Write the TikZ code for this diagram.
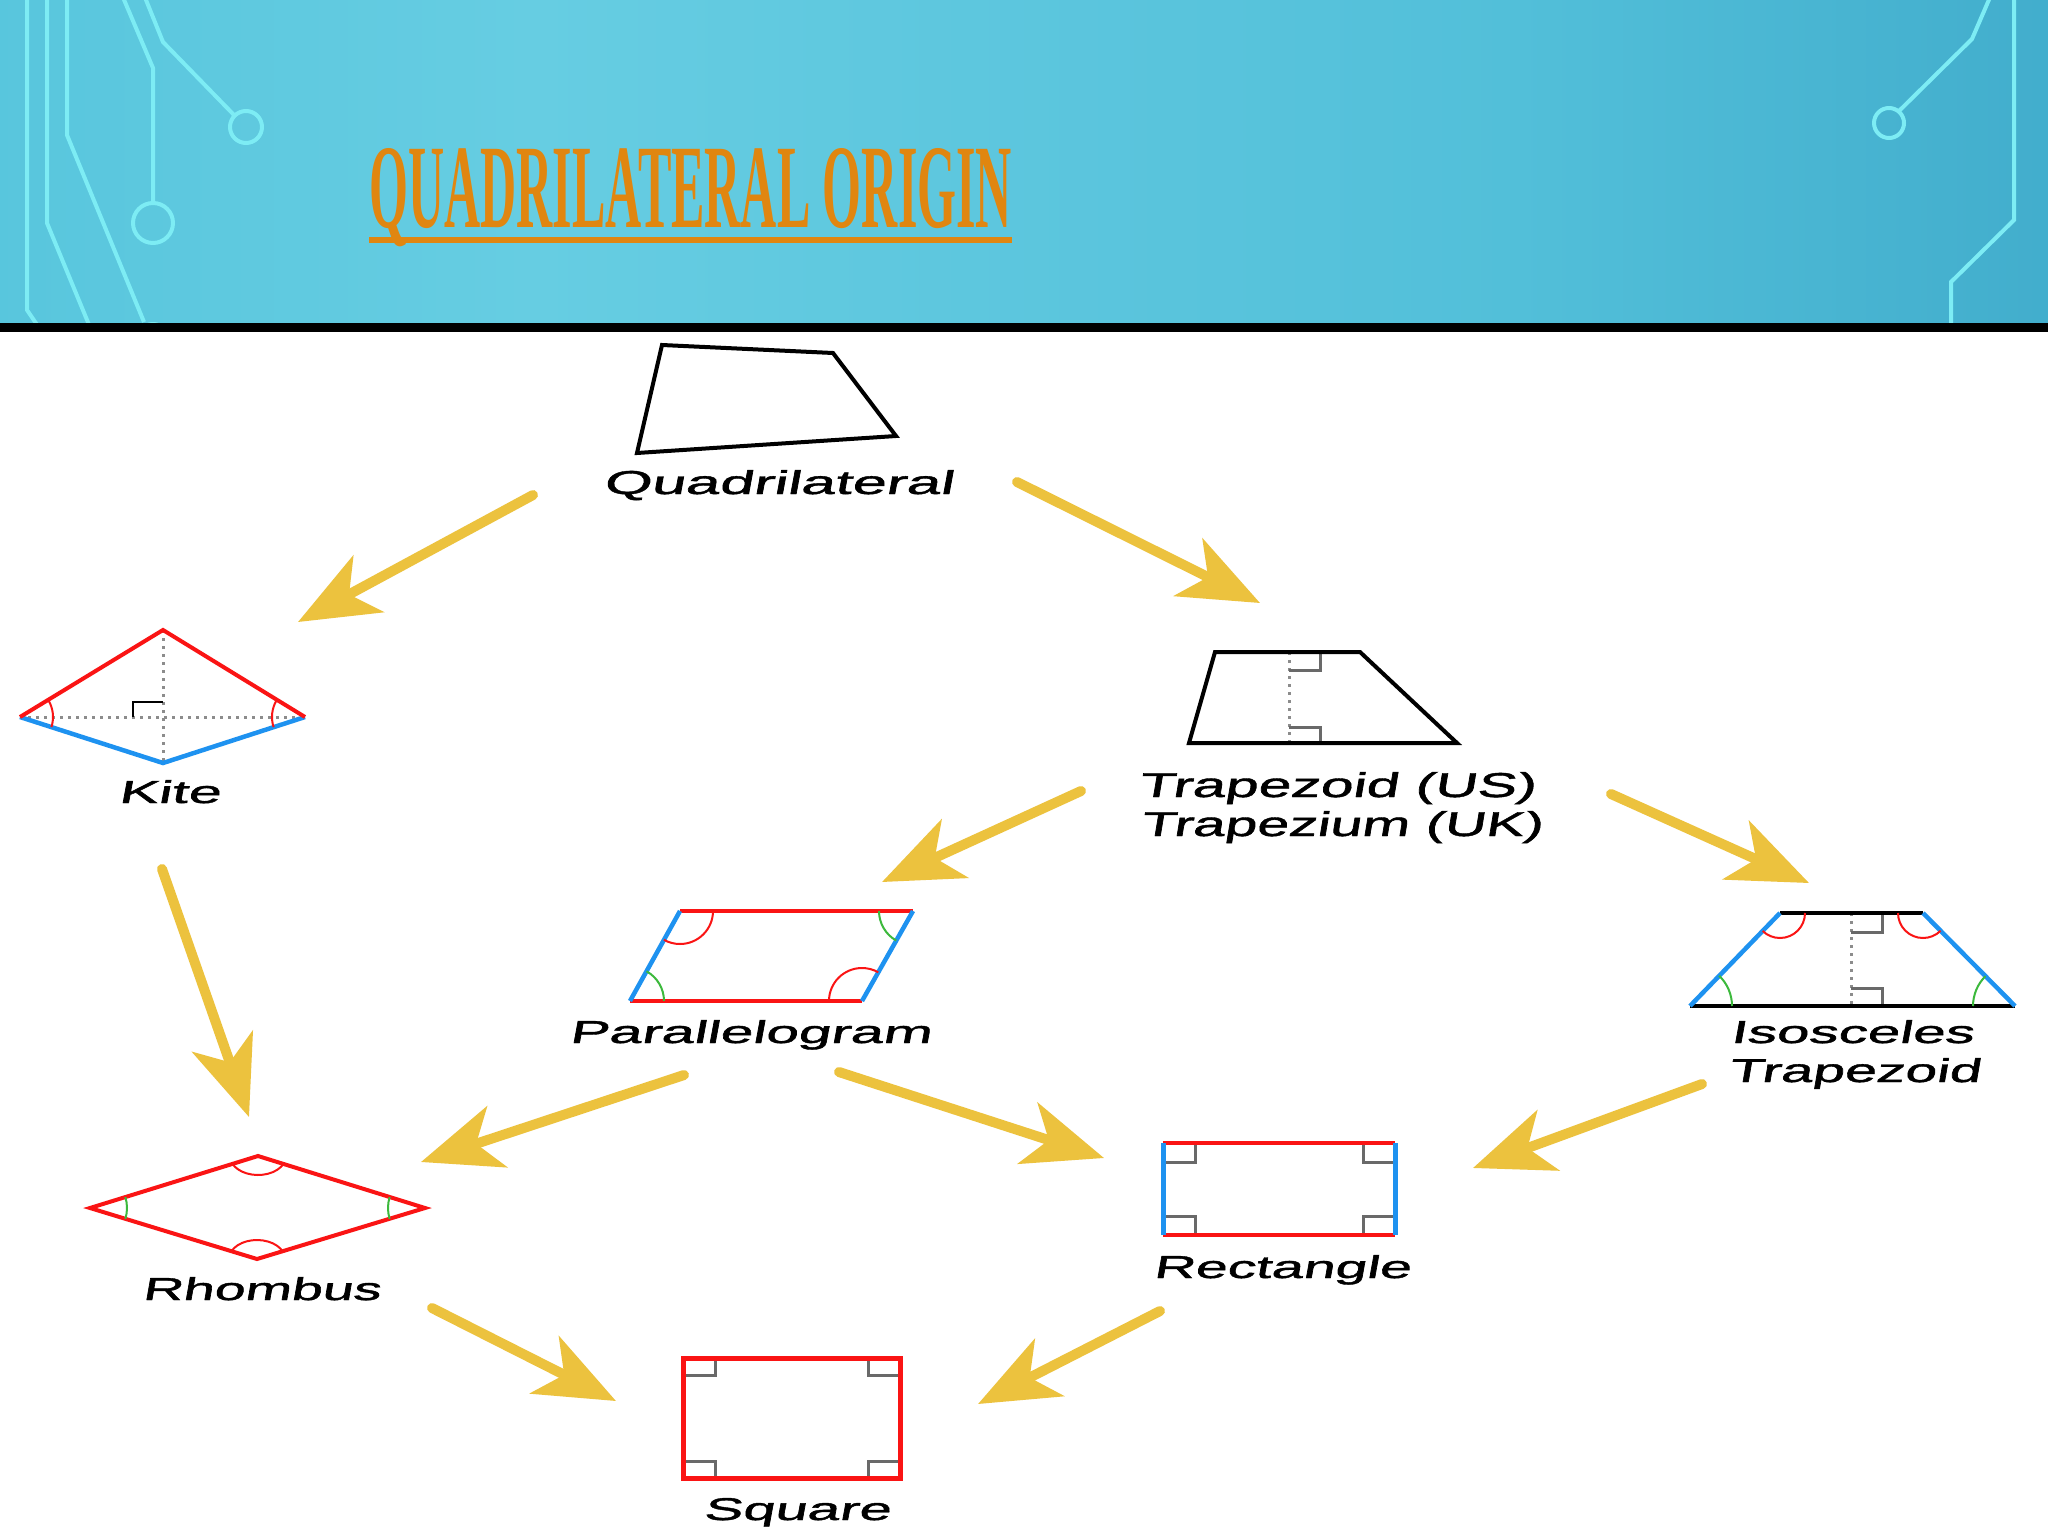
\documentclass[tikz,border=0pt]{standalone}
\usepackage{fontspec}
\usepackage{graphicx}
\usetikzlibrary{arrows.meta}
\newfontfamily\lblfont[FakeSlant=0.1, FakeBold=1.2]{Liberation Sans}
\newfontfamily\ttlfont{Liberation Serif}
\definecolor{hA}{RGB}{62,184,211}
\definecolor{hB}{RGB}{102,205,226}
\definecolor{hC}{RGB}{82,191,217}
\definecolor{hD}{RGB}{50,156,192}
\definecolor{hE}{RGB}{34,126,158}
\definecolor{circuit}{RGB}{125,236,244}
\definecolor{titleorange}{RGB}{224,134,16}
\definecolor{ayellow}{RGB}{236,194,62}
\definecolor{sred}{RGB}{250,20,20}
\definecolor{sblue}{RGB}{30,146,240}
\definecolor{sgreen}{RGB}{60,185,60}
\definecolor{dotgray}{RGB}{140,140,140}
\definecolor{markgray}{RGB}{105,105,105}
\pgfdeclarehorizontalshading{hdrshade}{100bp}{color(0bp)=(hA); color(38bp)=(hB); color(62bp)=(hC); color(88bp)=(hD); color(100bp)=(hE)}
\tikzset{
  circ/.style={draw=circuit, line width=4pt},
  yarrow/.style={draw=ayellow, line width=10pt, line cap=round, -{Stealth[length=80pt, width=64pt, inset=22pt]}},
  edgeblack/.style={draw=black, line width=4pt, line join=miter},
  edgered/.style={draw=sred, line width=4pt},
  edgeblue/.style={draw=sblue, line width=4.5pt},
  dotline/.style={draw=dotgray, line width=3pt, dash pattern=on 3pt off 5pt},
  rmark/.style={draw=markgray, line width=3pt},
  amred/.style={draw=sred, line width=2pt},
  amgreen/.style={draw=sgreen, line width=2pt},
  lbl/.style={anchor=base west, inner sep=0pt, text=black}
}
\newcommand{\lbltext}[3]{\resizebox{#1pt}{#2pt}{\lblfont #3}}
\begin{document}
\begin{tikzpicture}[x=1pt,y=-1pt]
\useasboundingbox (0,0) rectangle (2048,1536);
\fill[white] (0,0) rectangle (2048,1536);
% header
\fill[shading=hdrshade] (0,0) rectangle (2048,324);
\begin{scope}
\clip (0,0) rectangle (2048,324);
\draw[circ] (27,-5) -- (27,310) -- (42,332);
\draw[circ] (47,-5) -- (47,223) -- (92,332);
\draw[circ] (67,-5) -- (67,135) -- (144,322);
\draw[circ] (153,340) circle[radius=16];
\draw[circ] (122,-5) -- (153,68) -- (153,203);
\draw[circ] (153,223) circle[radius=20];
\draw[circ] (144,-5) -- (163,42) -- (235,116);
\draw[circ] (246,127) circle[radius=16];
\draw[circ] (1991,-5) -- (1972,39) -- (1898,112);
\draw[circ] (1889,123) circle[radius=15];
\draw[circ] (2014,-5) -- (2014,220) -- (1951,282) -- (1951,330);
\end{scope}
\fill[black] (0,323) rectangle (2048,332);
% title
\node[anchor=base west, inner sep=0pt, text=titleorange] (title) at (369,227)
  {\resizebox{643pt}{79pt}{\ttlfont\bfseries QUADRILATERAL ORIGIN}};
\fill[titleorange] (369,237) rectangle (1012,243);

% Quadrilateral
\draw[edgeblack] (662,345) -- (833,353) -- (896,436) -- (637,453) -- cycle;
\node[lbl] (quad) at (603,494) {\lbltext{350}{24}{Quadrilateral}};

% Kite
\draw[dotline] (20,717) -- (305,717);
\draw[dotline] (163,630) -- (163,763);
\draw[draw=black, line width=2.5pt] (133,717) -- (133,702) -- (163,702);
\draw[edgeblue] (20,717) -- (163,763) -- (305,717);
\draw[edgered] (20,717) -- (163,630) -- (305,717);
\draw[amred] (20,717) ++(-31.3:33) arc[start angle=-31.3, end angle=17.8, radius=33];
\draw[amred] (305,717) ++(162.1:33) arc[start angle=162.1, end angle=211.5, radius=33];
\node[lbl] (kite) at (118,803) {\lbltext{102}{23}{Kite}};

% Trapezoid
\draw[dotline] (1289,652) -- (1289,743);
\draw[rmark] (1289,670) -- (1320,670) -- (1320,652);
\draw[rmark] (1289,727) -- (1320,727) -- (1320,743);
\draw[edgeblack] (1215,652) -- (1360,652) -- (1457,743) -- (1189,743) -- cycle;
\node[lbl] (trapus) at (1138,797) {\lbltext{397}{25}{Trapezoid (US)}};
\node[lbl] (trapuk) at (1140,836) {\lbltext{402}{25}{Trapezium (UK)}};

% Parallelogram
\draw[edgered] (680,911) -- (913,911);
\draw[edgered] (630,1001) -- (862,1001);
\draw[edgeblue] (680,911) -- (630,1001);
\draw[edgeblue] (913,911) -- (862,1001);
\draw[amred] (680,911) ++(0:33) arc[start angle=0, end angle=119, radius=33];
\draw[amgreen] (913,911) ++(119.5:34) arc[start angle=119.5, end angle=180, radius=34];
\draw[amred] (862,1001) ++(180:33) arc[start angle=180, end angle=299.5, radius=33];
\draw[amgreen] (630,1001) ++(-61:34) arc[start angle=-61, end angle=0, radius=34];
\node[lbl] (para) at (569,1043) {\lbltext{362}{23}{Parallelogram}};

% Isosceles trapezoid
\draw[dotline] (1851,913) -- (1851,1006);
\draw[rmark] (1851,932) -- (1882,932) -- (1882,913);
\draw[rmark] (1851,988) -- (1882,988) -- (1882,1006);
\draw[edgeblack, line width=3.5pt] (1780,913) -- (1923,913);
\draw[edgeblack, line width=3.5pt] (1690,1006) -- (2015,1006);
\draw[edgeblue] (1780,913) -- (1690,1006);
\draw[edgeblue] (1923,913) -- (2015,1006);
\draw[amred] (1780,913) ++(0:25) arc[start angle=0, end angle=134, radius=25];
\draw[amred] (1923,913) ++(45.3:25) arc[start angle=45.3, end angle=180, radius=25];
\draw[amgreen] (1690,1006) ++(-46:42) arc[start angle=-46, end angle=0, radius=42];
\draw[amgreen] (2015,1006) ++(180:42) arc[start angle=180, end angle=225.3, radius=42];
\node[lbl] (isos1) at (1730,1043) {\lbltext{243}{23}{Isosceles}};
\node[lbl] (isos2) at (1728,1082) {\lbltext{252}{24}{Trapezoid}};

% Rhombus
\draw[edgered] (258,1156) -- (425,1208) -- (257,1259) -- (90,1208) -- cycle;
\draw[amred] (258,1156) ++(24:28 and 19) arc[start angle=24, end angle=156, x radius=28, y radius=19];
\draw[amred] (257,1259) ++(204:28 and 19) arc[start angle=204, end angle=336, x radius=28, y radius=19];
\draw[amgreen] (90,1208) ++(-17.2:37) arc[start angle=-17.2, end angle=17, radius=37];
\draw[amgreen] (425,1208) ++(163:37) arc[start angle=163, end angle=197.3, radius=37];
\node[lbl] (rhombus) at (142,1300) {\lbltext{238}{23}{Rhombus}};

% Rectangle
\draw[rmark] (1163,1162) -- (1195,1162) -- (1195,1143);
\draw[rmark] (1395,1162) -- (1363,1162) -- (1363,1143);
\draw[rmark] (1163,1216) -- (1195,1216) -- (1195,1235);
\draw[rmark] (1395,1216) -- (1363,1216) -- (1363,1235);
\draw[edgered] (1163,1143) -- (1395,1143);
\draw[edgered] (1163,1235) -- (1395,1235);
\draw[edgeblue, line width=5pt] (1163,1143) -- (1163,1235);
\draw[edgeblue, line width=5pt] (1395,1143) -- (1395,1235);
\node[lbl] (rect) at (1153,1278) {\lbltext{257}{23}{Rectangle}};

% Square
\draw[rmark] (683,1375) -- (715,1375) -- (715,1358);
\draw[rmark] (900,1375) -- (868,1375) -- (868,1358);
\draw[rmark] (683,1461) -- (715,1461) -- (715,1478);
\draw[rmark] (900,1461) -- (868,1461) -- (868,1478);
\draw[edgered, line width=5pt] (683,1358) rectangle (900,1478);
\node[lbl] (square) at (703,1520) {\lbltext{187}{22}{Square}};

% arrow end points
\coordinate (a1s) at (533,495);  \coordinate (a1e) at (298,622);
\coordinate (a2s) at (1017,482); \coordinate (a2e) at (1260,603);
\coordinate (a3s) at (162,869);  \coordinate (a3e) at (249,1117);
\coordinate (a4s) at (1081,791); \coordinate (a4e) at (882,882);
\coordinate (a5s) at (1611,794); \coordinate (a5e) at (1809,883);
\coordinate (a6s) at (684,1075); \coordinate (a6e) at (421,1162);
\coordinate (a7s) at (839,1072); \coordinate (a7e) at (1104,1158);
\coordinate (a8s) at (1702,1084); \coordinate (a8e) at (1473,1168);
\coordinate (a9s) at (432,1308); \coordinate (a9e) at (616,1401);
\coordinate (a10s) at (1160,1311); \coordinate (a10e) at (978,1404);
\draw[yarrow] (a1s) -- (a1e);
\draw[yarrow] (a2s) -- (a2e);
\draw[yarrow] (a3s) -- (a3e);
\draw[yarrow] (a4s) -- (a4e);
\draw[yarrow] (a5s) -- (a5e);
\draw[yarrow] (a6s) -- (a6e);
\draw[yarrow] (a7s) -- (a7e);
\draw[yarrow] (a8s) -- (a8e);
\draw[yarrow] (a9s) -- (a9e);
\draw[yarrow] (a10s) -- (a10e);
\end{tikzpicture}
\end{document}
